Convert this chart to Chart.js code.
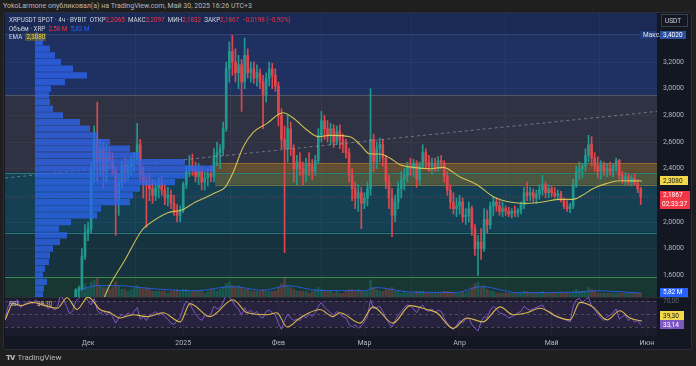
<!DOCTYPE html>
<html><head><meta charset="utf-8">
<script src="https://cdn.jsdelivr.net/npm/chart.js@4/dist/chart.umd.min.js"></script>
<style>
html,body{margin:0;padding:0;background:#1f1f1f;width:696px;height:366px;overflow:hidden;font-family:Roboto,"Noto Sans",sans-serif;}
#top{position:absolute;left:3px;top:2px;font-size:7px;line-height:8px;color:#b8b8b8;white-space:nowrap;}
#frame{position:absolute;left:3px;top:12px;width:687px;height:336px;background:#131722;border:1px solid #2a2e39;border-radius:3px;}
canvas{position:absolute;}
#cA,#cB{left:5px;top:13px;}
#cC{left:5px;top:297px;}
.leg{position:absolute;font-size:6.3px;line-height:8px;white-space:nowrap;color:#d1d4dc;}
.r{color:#f23645;}
.b{color:#2962ff;}
.y{color:#f2d84a;background:rgba(120,110,30,0.55);padding:0 1px;}
#tv{position:absolute;left:6px;top:353px;font-size:8px;line-height:10px;color:#b8b8b8;white-space:nowrap;}
#tv b{font-weight:900;letter-spacing:-1px;margin-right:3px;}
</style></head>
<body>
<div id="top">YokoLarmone опубликовал(а) на TradingView.com, Май 30, 2025 16:26 UTC+3</div>
<div id="frame"></div>
<canvas id="cA" width="685" height="284"></canvas>
<canvas id="cB" width="685" height="284"></canvas>
<canvas id="cC" width="685" height="52"></canvas>
<div class="leg" style="left:9px;top:16px">XRPUSDT SPOT · 4ч · BYBIT &nbsp;ОТКР<span class="r">2,2065</span> &nbsp;МАКС<span class="r">2,2097</span> &nbsp;МИН<span class="r">2,1832</span> &nbsp;ЗАКР<span class="r">2,1867</span> &nbsp;<span class="r">−0,0198 (−0,90%)</span></div>
<div class="leg" style="left:9px;top:25px">Объём · XRP &nbsp;<span class="r">2,58 M</span> &nbsp;<span class="b">5,82 M</span></div>
<div class="leg" style="left:9px;top:33px">EMA &nbsp;<span class="y">2,3080</span></div>
<div class="leg" style="left:9px;top:300px;color:#b2b5be">RSI <span style="color:#d9b84a;margin-left:17px">39,30</span></div>
<div id="tv"><b>TV</b>TradingView</div>
<script>
// ---- axis ticks ----
const tickDays = [0, 31, 62, 90, 121, 151, 182];
const tickLabels = ['Дек', '2025', 'Фев', 'Мар', 'Апр', 'Май', 'Июн'];
const priceTicks = [1.6, 1.8, 2.0, 2.2, 2.4, 2.6, 2.8, 3.0, 3.2];
const rsiTicks = [70, 30];

// ---- daily candles, day 0 = 1 Dec 2024, first candle = day -4 ----
const candleStartDay = -4;
const opens = [
1.40,1.49,1.50,1.74,1.92,1.95,2.40,2.62,2.45,2.55,
2.38,2.52,2.46,2.40,2.18,2.30,2.42,2.38,2.42,2.45,
2.47,2.58,2.36,2.30,2.28,2.25,2.20,2.26,2.28,2.24,
2.18,2.20,2.14,2.08,2.05,2.09,2.28,2.38,2.42,2.40,
2.34,2.38,2.30,2.33,2.36,2.34,2.50,2.52,2.55,2.70,
3.15,3.28,3.20,3.12,3.18,3.05,3.25,3.12,3.15,3.08,
3.12,3.05,2.95,3.08,3.15,3.10,3.02,2.80,2.62,2.55,
2.70,2.55,2.40,2.45,2.40,2.36,2.44,2.42,2.38,2.46,
2.65,2.76,2.70,2.65,2.70,2.60,2.68,2.62,2.58,2.52,
2.35,2.25,2.18,2.22,2.14,2.18,2.25,2.62,2.45,2.55,
2.58,2.48,2.30,2.18,2.05,2.15,2.25,2.32,2.35,2.42,
2.40,2.44,2.32,2.42,2.52,2.45,2.42,2.44,2.40,2.46,
2.44,2.34,2.24,2.15,2.10,2.12,2.15,2.04,2.05,2.10,
1.95,1.80,1.85,1.80,2.02,1.98,2.12,2.15,2.12,2.08,
2.10,2.08,2.06,2.08,2.07,2.09,2.13,2.22,2.20,2.22,
2.18,2.21,2.24,2.28,2.22,2.25,2.22,2.20,2.21,2.16,
2.12,2.10,2.12,2.28,2.38,2.40,2.42,2.50,2.58,2.48,
2.42,2.38,2.43,2.38,2.40,2.38,2.42,2.46,2.35,2.32,
2.34,2.30,2.33,2.29,2.25];
const highs = [
1.50,1.52,1.80,1.98,2.00,2.45,2.72,2.90,2.62,2.60,
2.58,2.56,2.52,2.42,2.36,2.46,2.48,2.47,2.49,2.52,
2.74,2.62,2.42,2.35,2.36,2.32,2.30,2.33,2.34,2.28,
2.26,2.24,2.20,2.13,2.12,2.30,2.42,2.50,2.51,2.45,
2.44,2.42,2.38,2.40,2.42,2.55,2.60,2.58,2.75,3.20,
3.35,3.40,3.30,3.25,3.22,3.38,3.30,3.20,3.20,3.18,
3.15,3.10,3.12,3.20,3.19,3.15,3.05,2.85,2.72,2.80,
2.75,2.58,2.50,2.52,2.45,2.48,2.52,2.47,2.50,2.70,
2.83,2.80,2.76,2.74,2.73,2.72,2.73,2.66,2.62,2.55,
2.40,2.30,2.28,2.26,2.22,2.30,3.00,2.66,2.60,2.63,
2.62,2.50,2.35,2.25,2.20,2.30,2.38,2.40,2.45,2.48,
2.47,2.46,2.45,2.58,2.55,2.50,2.48,2.48,2.49,2.50,
2.46,2.38,2.28,2.22,2.18,2.20,2.18,2.10,2.15,2.12,
1.98,1.90,1.95,2.10,2.09,2.15,2.19,2.18,2.16,2.15,
2.12,2.11,2.10,2.12,2.10,2.15,2.26,2.30,2.26,2.25,
2.24,2.28,2.35,2.30,2.28,2.27,2.26,2.24,2.23,2.18,
2.16,2.14,2.32,2.42,2.45,2.44,2.55,2.65,2.64,2.52,
2.49,2.46,2.45,2.44,2.45,2.44,2.48,2.47,2.38,2.37,
2.36,2.35,2.36,2.32,2.26];
const lows = [
1.38,1.44,1.49,1.72,1.86,1.92,2.30,2.30,2.35,2.25,
2.30,2.40,2.35,1.90,2.05,2.26,2.30,2.32,2.35,2.38,
2.44,2.30,2.18,1.96,2.16,2.14,2.16,2.18,2.20,2.13,
2.12,2.10,2.05,2.00,2.00,2.07,2.25,2.34,2.35,2.30,
2.28,2.24,2.24,2.27,2.30,2.30,2.42,2.40,2.50,2.68,
3.05,3.10,3.05,3.00,2.83,3.00,3.08,3.05,3.04,3.02,
3.00,2.70,2.90,3.02,3.00,2.98,2.72,2.55,1.77,2.45,
2.50,2.30,2.28,2.35,2.28,2.30,2.35,2.32,2.35,2.44,
2.60,2.62,2.60,2.58,2.56,2.58,2.55,2.52,2.48,2.30,
2.16,2.10,2.08,1.95,2.10,2.12,2.20,2.38,2.40,2.45,
2.42,2.25,2.10,1.89,2.00,2.10,2.18,2.24,2.30,2.35,
2.34,2.26,2.28,2.40,2.40,2.38,2.36,2.38,2.38,2.40,
2.30,2.20,2.10,2.06,2.04,2.06,2.00,1.98,2.00,1.90,
1.75,1.60,1.72,1.78,1.92,1.95,2.05,2.08,2.05,2.04,
2.05,2.04,2.03,2.04,2.04,2.06,2.10,2.16,2.16,2.15,
2.14,2.17,2.20,2.18,2.18,2.19,2.18,2.17,2.15,2.10,
2.08,2.07,2.10,2.26,2.32,2.33,2.38,2.45,2.42,2.38,
2.33,2.32,2.35,2.34,2.35,2.34,2.38,2.32,2.29,2.28,
2.28,2.27,2.28,2.22,2.13];
const closes = [
1.49,1.50,1.74,1.92,1.95,2.40,2.62,2.45,2.55,2.38,
2.52,2.46,2.40,2.18,2.30,2.42,2.38,2.42,2.45,2.47,
2.58,2.36,2.30,2.28,2.25,2.20,2.26,2.28,2.24,2.18,
2.20,2.14,2.08,2.05,2.09,2.28,2.38,2.42,2.40,2.34,
2.38,2.30,2.33,2.36,2.34,2.50,2.52,2.55,2.70,3.15,
3.28,3.20,3.12,3.18,3.05,3.25,3.12,3.15,3.08,3.12,
3.05,2.95,3.08,3.15,3.10,3.02,2.80,2.62,2.55,2.70,
2.55,2.40,2.45,2.40,2.36,2.44,2.42,2.38,2.46,2.65,
2.76,2.70,2.65,2.70,2.60,2.68,2.62,2.58,2.52,2.35,
2.25,2.18,2.22,2.14,2.18,2.25,2.62,2.45,2.55,2.58,
2.48,2.30,2.18,2.05,2.15,2.25,2.32,2.35,2.42,2.40,
2.44,2.32,2.42,2.52,2.45,2.42,2.44,2.40,2.46,2.44,
2.34,2.24,2.15,2.10,2.12,2.15,2.04,2.05,2.10,1.95,
1.80,1.85,1.80,2.02,1.98,2.12,2.15,2.12,2.08,2.10,
2.08,2.06,2.08,2.07,2.09,2.13,2.22,2.20,2.22,2.18,
2.21,2.24,2.28,2.22,2.25,2.22,2.20,2.21,2.16,2.12,
2.10,2.12,2.28,2.38,2.40,2.42,2.50,2.58,2.48,2.42,
2.38,2.43,2.38,2.40,2.38,2.42,2.46,2.35,2.32,2.34,
2.30,2.33,2.29,2.25,2.1867];
const volumes = [
3,4,6,7,5,8,9,10,6,5,
5,4,5,8,6,4,4,3,4,5,
6,5,4,5,4,3,3,3,3,3,
2,3,3,4,3,4,4,3,3,3,
3,3,2,3,4,4,3,4,5,7,
8,6,5,6,5,4,4,3,3,3,
3,4,3,3,3,3,5,7,10,6,
5,4,3,3,3,3,2,3,4,5,
4,3,3,3,2,3,2,2,3,4,
4,3,4,3,3,3,9,5,4,3,
3,4,4,5,3,3,2,3,2,2,
2,3,3,3,2,2,2,2,2,2,
3,3,3,2,2,2,3,2,3,5,
7,8,5,6,4,3,3,2,2,2,
2,2,2,2,2,2,3,3,2,2,
2,2,3,2,2,2,2,2,2,2,
2,2,3,4,3,3,3,5,4,3,
2,2,2,2,2,2,2,2,2,2,
2,2,2,2,2];

// ---- EMA, volume MA, trend line ----
const emaDays   = [4, 6.5, 12, 17.6, 19.5, 26, 30.6, 35, 36.5, 41.4, 44.6, 47.2, 50.5, 53.7, 58.3, 63.5, 66.8, 71.3, 75, 78.8, 85.3, 88.6, 91.8, 95, 98.3, 101.6, 105.8, 111.4, 115.6, 121, 126.7, 132, 137.4, 143, 148, 153.7, 158, 161, 164.4, 169, 173.2, 180.4];
const emaValues = [1.36, 1.50, 1.715, 1.94, 1.98, 2.07, 2.09, 2.15, 2.165, 2.22, 2.26, 2.37, 2.56, 2.67, 2.74, 2.82, 2.78, 2.69, 2.64, 2.65, 2.64, 2.58, 2.51, 2.51, 2.48, 2.43, 2.41, 2.40, 2.41, 2.34, 2.28, 2.19, 2.15, 2.14, 2.15, 2.17, 2.17, 2.20, 2.25, 2.29, 2.31, 2.308];
const volMaDays   = [-4, 3, 10, 20, 35, 47, 57, 65, 75, 90, 94, 105, 120, 128, 140, 160, 165, 180];
const volMaValues = [3, 6, 6, 4.5, 3.3, 5.5, 3.5, 6, 3.5, 3.3, 5, 2.6, 2.4, 5.5, 2.3, 2.6, 3.3, 2.1];
const trendDays   = [-27, 185.3];
const trendValues = [2.33, 2.83];

// ---- RSI (daily, from day -27) and its SMA ----
const rsiStartDay = -27;
const rsiValues = [
45,62,70,66,72,60,64,68, 70,66,72,62,68,64,58,62, 56,60,80,72,62,50,55,70,
74,82,78,70,64,74,56,50, 56,48,54,46,36,44,50,46, 52,48,54,60,42,46,40,48,
50,54,48,52,46,42,36,34, 40,44,60,70,66,58,50,44, 40,48,46,50,62,58,60,68,
80,76,70,62,58,48,60,52, 56,50,54,46,44,54,56,52, 48,36,26,40,50,44,40,42,
40,48,44,50,46,52,62,68, 60,56,52,48,54,50,46,44, 34,30,34,28,32,38,46,72,
58,60,62,54,44,36,30,40, 48,54,60,64,62,58,52,60, 64,56,54,58,52,56,54,44,
36,30,26,32,40,36,42,44, 34,28,24,38,46,44,56,62, 58,52,50,48,44,46,48,52,
54,62,58,56,58,60,62,64, 56,54,52,48,46,44,42,40, 38,62,72,74,68,72,76,62,
56,50,44,40,46,48,52,58, 42,46,48,40,44,38,40,33.14];
const rsiMaDays   = [-27,-24.4,-22,-18,-14.7,-10,-6.8,-3.6,0,3.9,7.2,10.4,14.7,19.2,24.4,30,33.2,39.7,47.2,51.8,58.3,61.5,64.8,69,75.5,79.8,82,88.6,92.8,99.3,104.9,110.4,113.6,118.9,123.4,128.6,134.2,138.4,143,147.2,152.7,157,160.2,164.4,169,173.2,176.5,180.4];
const rsiMaValues = [41,66,63,68,64,59,75,57,76,57,52,44,49,46,52,38,66,46,72,52,49,52,30,44,57,46,52,36,61,36,63,57,52,28,44,38,61,49,52,59,46,41,68,61,41,55,44,39.3];

// ---- volume profile (price level -> relative volume) ----
const profilePrices  = [3.40,3.35,3.30,3.25,3.20,3.15,3.10,3.05,3.00,2.95,2.90,2.85,2.80,2.75,2.70,2.65,2.60,2.55,2.50,2.45,2.40,2.35,2.30,2.25,2.20,2.15,2.10,2.05,2.00,1.95,1.90,1.85,1.80,1.75,1.70,1.65,1.60,1.55,1.50,1.45];
const profileVolumes = [3,8,15,20,26,38,52,30,16,14,15,18,28,45,55,62,75,95,105,150,178,150,140,105,98,95,66,62,36,24,32,25,18,15,14,10,8,12,9,8];

// ---- zones / levels and last values ----
const zoneLevels = [3.41, 2.95, 2.37, 1.92, 1.59];
const keyZone = {fromDay: 41.4, lo: 2.28, hi: 2.44};
const lastPrice = 2.1867, lastEma = 2.3080, priceMax = 3.4020, lastRsi = 33.14, lastRsiMa = 39.30;

// ---------------- drawing ----------------
Chart.defaults.font.family = 'Roboto, "Noto Sans", sans-serif';
const X_MIN = -27.05, X_MAX = 185.3, Y_MIN = 1.4375, Y_MAX = 3.568;
const UP = '#22998e', DN = '#e0474c';
const zoneColors = ['rgb(26,41,86)', 'rgb(30,49,97)', 'rgb(46,50,66)', 'rgb(21,64,84)', 'rgb(22,50,62)', 'rgb(24,54,50)'];
const levelColors = ['rgba(60,80,130,0.7)', 'rgba(120,125,140,0.55)', 'rgb(45,125,125)', 'rgb(35,120,130)', 'rgb(55,140,85)'];
const fmt = (v, d) => v.toFixed(d).replace('.', ',');

const candleDays = opens.map((_, i) => candleStartDay + i);
const cColors = opens.map((o, i) => closes[i] >= o ? UP : DN);
const vColors = opens.map((o, i) => closes[i] >= o ? 'rgba(38,166,154,0.3)' : 'rgba(239,83,80,0.3)');

function tag(ctx, x, yc, w, h, bg, fg, text) {
  ctx.fillStyle = bg; ctx.fillRect(x, Math.round(yc - h / 2), w, h);
  ctx.fillStyle = fg; ctx.font = '6.5px Roboto'; ctx.textBaseline = 'middle'; ctx.textAlign = 'left';
  ctx.fillText(text, x + 3, yc + 0.5);
}

const paneA = {
  id: 'paneA',
  beforeDraw(c) {
    const {ctx, chartArea: a} = c, y = c.scales.y;
    const edges = [null, ...zoneLevels, null];
    ctx.save();
    for (let i = 0; i < zoneColors.length; i++) {
      const t = edges[i] === null ? a.top : Math.max(a.top, y.getPixelForValue(edges[i]));
      const b = edges[i + 1] === null ? a.bottom : Math.min(a.bottom, y.getPixelForValue(edges[i + 1]));
      if (b > t) { ctx.fillStyle = zoneColors[i]; ctx.fillRect(a.left, t, a.width, b - t); }
    }
    ctx.restore();
  },
  beforeDatasetsDraw(c) {
    const {ctx, chartArea: a} = c, y = c.scales.y, x = c.scales.x;
    ctx.save();
    const zx = x.getPixelForValue(keyZone.fromDay), zt = y.getPixelForValue(keyZone.hi), zb = y.getPixelForValue(keyZone.lo);
    ctx.fillStyle = 'rgba(255,165,0,0.24)'; ctx.fillRect(zx, zt, a.right - zx, zb - zt);
    ctx.strokeStyle = 'rgba(200,145,50,0.55)'; ctx.lineWidth = 1;
    [zt, zb].forEach(p => { ctx.beginPath(); ctx.moveTo(zx, Math.round(p) + 0.5); ctx.lineTo(a.right, Math.round(p) + 0.5); ctx.stroke(); });
    zoneLevels.forEach((lv, i) => {
      const p = Math.round(y.getPixelForValue(lv)) + 0.5;
      ctx.strokeStyle = levelColors[i]; ctx.beginPath(); ctx.moveTo(a.left, p); ctx.lineTo(a.right, p); ctx.stroke();
    });
    const pp = Math.round(y.getPixelForValue(lastPrice)) + 0.5;
    ctx.strokeStyle = 'rgba(242,54,69,0.45)'; ctx.setLineDash([1, 2]);
    ctx.beginPath(); ctx.moveTo(a.left, pp); ctx.lineTo(a.right, pp); ctx.stroke();
    ctx.restore();
  },
  afterDraw(c) {
    const {ctx, chartArea: a} = c, y = c.scales.y;
    const ax = y.left;
    ctx.save();
    ctx.fillStyle = '#131722'; ctx.fillRect(ax + 4, 1, 27, 13);
    ctx.strokeStyle = '#3a3e4a'; ctx.strokeRect(ax + 4.5, 1.5, 26, 12);
    ctx.fillStyle = '#d1d4dc'; ctx.font = '6.5px Roboto'; ctx.textBaseline = 'middle'; ctx.fillText('USDT', ax + 8, 8);
    const my = y.getPixelForValue(priceMax);
    tag(ctx, ax - 17, my, 16, 8, '#1f3a78', '#e0e3eb', 'Макс.');
    tag(ctx, ax + 3, my, 26, 8, '#2c4f9e', '#ffffff', fmt(priceMax, 4));
    tag(ctx, ax + 3, y.getPixelForValue(lastEma), 28, 9, '#f2d84a', '#131722', fmt(lastEma, 4));
    const py = y.getPixelForValue(lastPrice);
    ctx.fillStyle = '#f23645'; ctx.fillRect(ax + 3, Math.round(py - 6), 30, 18);
    ctx.fillStyle = '#ffffff'; ctx.fillText(fmt(lastPrice, 4), ax + 6, py - 1.5);
    ctx.fillText('02:33:37', ax + 5, py + 7);
    tag(ctx, ax + 3, a.bottom - 5, 28, 9, '#2962ff', '#ffffff', '5,82 M');
    ctx.restore();
  }
};

new Chart(document.getElementById('cA'), {
  type: 'line',
  data: {
    datasets: [
      { type: 'line', data: emaDays.map((d, i) => ({x: d, y: emaValues[i]})), borderColor: 'rgba(222,205,85,0.9)', borderWidth: 1.1, pointRadius: 0, cubicInterpolationMode: 'monotone', order: 0 },
      { type: 'line', data: trendDays.map((d, i) => ({x: d, y: trendValues[i]})), borderColor: 'rgba(165,170,185,0.55)', borderWidth: 1, borderDash: [3, 3], pointRadius: 0, order: 1 },
      { type: 'bar', data: candleDays.map((d, i) => ({x: d, y: [opens[i], closes[i]]})), backgroundColor: cColors, barThickness: 2, minBarLength: 1, grouped: false, borderWidth: 0, order: 2 },
      { type: 'bar', data: candleDays.map((d, i) => ({x: d, y: [lows[i], highs[i]]})), backgroundColor: cColors, barThickness: 1, grouped: false, borderWidth: 0, order: 3 },
      { type: 'line', yAxisID: 'yv', data: volMaDays.map((d, i) => ({x: d, y: volMaValues[i]})), borderColor: 'rgba(41,98,255,0.8)', borderWidth: 1, pointRadius: 0, cubicInterpolationMode: 'monotone', order: 4 },
      { type: 'bar', yAxisID: 'yv', data: candleDays.map((d, i) => ({x: d, y: volumes[i]})), backgroundColor: vColors, barThickness: 2, grouped: false, borderWidth: 0, order: 5 }
    ]
  },
  options: {
    responsive: false, animation: false, devicePixelRatio: 1,
    layout: {padding: 0},
    plugins: {legend: {display: false}, tooltip: {enabled: false}},
    scales: {
      x: { type: 'linear', min: X_MIN, max: X_MAX, offset: false,
        ticks: {display: false}, grid: {color: 'rgba(255,255,255,0.045)', drawTicks: false}, border: {display: false},
        afterBuildTicks: s => { s.ticks = tickDays.map(v => ({value: v})); },
        afterFit: s => { s.height = 0; s.paddingLeft = 0; s.paddingRight = 0; } },
      y: { type: 'linear', position: 'right', min: Y_MIN, max: Y_MAX,
        ticks: {color: '#b2b5be', font: {size: 7}, padding: 6, callback: v => fmt(v, 4)},
        grid: {color: 'rgba(255,255,255,0.035)', drawTicks: false}, border: {display: false},
        afterBuildTicks: s => { s.ticks = priceTicks.map(v => ({value: v})); },
        afterFit: s => { s.width = 33; s.paddingTop = 0; s.paddingBottom = 0; } },
      yv: { type: 'linear', display: false, min: 0, max: 150 }
    }
  },
  plugins: [paneA]
});

new Chart(document.getElementById('cB'), {
  type: 'bar',
  data: { datasets: [{ data: profilePrices.map((p, i) => ({x: profileVolumes[i], y: p})), backgroundColor: 'rgba(45,100,240,0.78)', borderWidth: 0, barPercentage: 0.94, categoryPercentage: 1 }] },
  options: {
    indexAxis: 'y', responsive: false, animation: false, devicePixelRatio: 1,
    layout: {padding: {left: 30, right: 33, top: 0, bottom: 0}},
    plugins: {legend: {display: false}, tooltip: {enabled: false}},
    scales: {
      y: {type: 'linear', display: false, min: Y_MIN, max: Y_MAX, offset: false},
      x: {type: 'linear', display: false, min: 0, max: 622}
    }
  }
});

const paneC = {
  id: 'paneC',
  beforeDraw(c) {
    const {ctx, chartArea: a} = c, y = c.scales.y;
    ctx.save();
    ctx.fillStyle = '#1b1b2b'; ctx.fillRect(a.left, a.top, a.width, a.height);
    const t = y.getPixelForValue(70), b = y.getPixelForValue(30);
    ctx.fillStyle = 'rgba(126,87,194,0.13)'; ctx.fillRect(a.left, t, a.width, b - t);
    ctx.restore();
  },
  beforeDatasetsDraw(c) {
    const {ctx, chartArea: a} = c, y = c.scales.y;
    ctx.save();
    ctx.strokeStyle = 'rgba(120,123,134,0.5)'; ctx.lineWidth = 1; ctx.setLineDash([3, 3]);
    [70, 50, 30].forEach(v => { const p = Math.round(y.getPixelForValue(v)) + 0.5; ctx.beginPath(); ctx.moveTo(a.left, p); ctx.lineTo(a.right, p); ctx.stroke(); });
    ctx.setLineDash([]); ctx.strokeStyle = '#2a2e39';
    ctx.beginPath(); ctx.moveTo(0, 0.5); ctx.lineTo(c.width, 0.5); ctx.stroke();
    ctx.restore();
  },
  afterDraw(c) {
    const {ctx} = c, y = c.scales.y, ax = y.left;
    ctx.save();
    const pY = y.getPixelForValue(lastRsi);
    const yY = Math.min(y.getPixelForValue(lastRsiMa), pY - 9);
    tag(ctx, ax + 3, yY, 24, 9, '#f2d84a', '#131722', fmt(lastRsiMa, 2));
    tag(ctx, ax + 3, pY, 24, 9, '#7e57c2', '#ffffff', fmt(lastRsi, 2));
    ctx.restore();
  }
};

new Chart(document.getElementById('cC'), {
  type: 'line',
  data: {
    datasets: [
      { data: rsiMaDays.map((d, i) => ({x: d, y: rsiMaValues[i]})), borderColor: '#d9b84a', borderWidth: 1.1, pointRadius: 0, cubicInterpolationMode: 'monotone' },
      { data: rsiValues.map((v, i) => ({x: rsiStartDay + i, y: v})), borderColor: '#7e57c2', borderWidth: 1, pointRadius: 0 }
    ]
  },
  options: {
    responsive: false, animation: false, devicePixelRatio: 1,
    layout: {padding: 0},
    plugins: {legend: {display: false}, tooltip: {enabled: false}},
    scales: {
      x: { type: 'linear', min: X_MIN, max: X_MAX, offset: false,
        ticks: {color: '#b2b5be', font: {size: 7}, padding: 3, maxRotation: 0, autoSkip: false,
          callback: v => { const k = tickDays.indexOf(v); return k >= 0 ? tickLabels[k] : ''; }},
        grid: {color: 'rgba(255,255,255,0.045)', drawTicks: false}, border: {display: false},
        afterBuildTicks: s => { s.ticks = tickDays.map(v => ({value: v})); },
        afterFit: s => { s.height = 13; s.paddingLeft = 0; s.paddingRight = 0; } },
      y: { type: 'linear', position: 'right', min: 16.2, max: 76.2,
        ticks: {color: 'rgba(120,123,134,0.8)', font: {size: 6.5}, padding: 6, callback: v => fmt(v, 2)},
        grid: {display: false, drawTicks: false}, border: {display: false},
        afterBuildTicks: s => { s.ticks = rsiTicks.map(v => ({value: v})); },
        afterFit: s => { s.width = 33; s.paddingTop = 0; s.paddingBottom = 0; } }
    }
  },
  plugins: [paneC]
});
</script>
</body></html>
